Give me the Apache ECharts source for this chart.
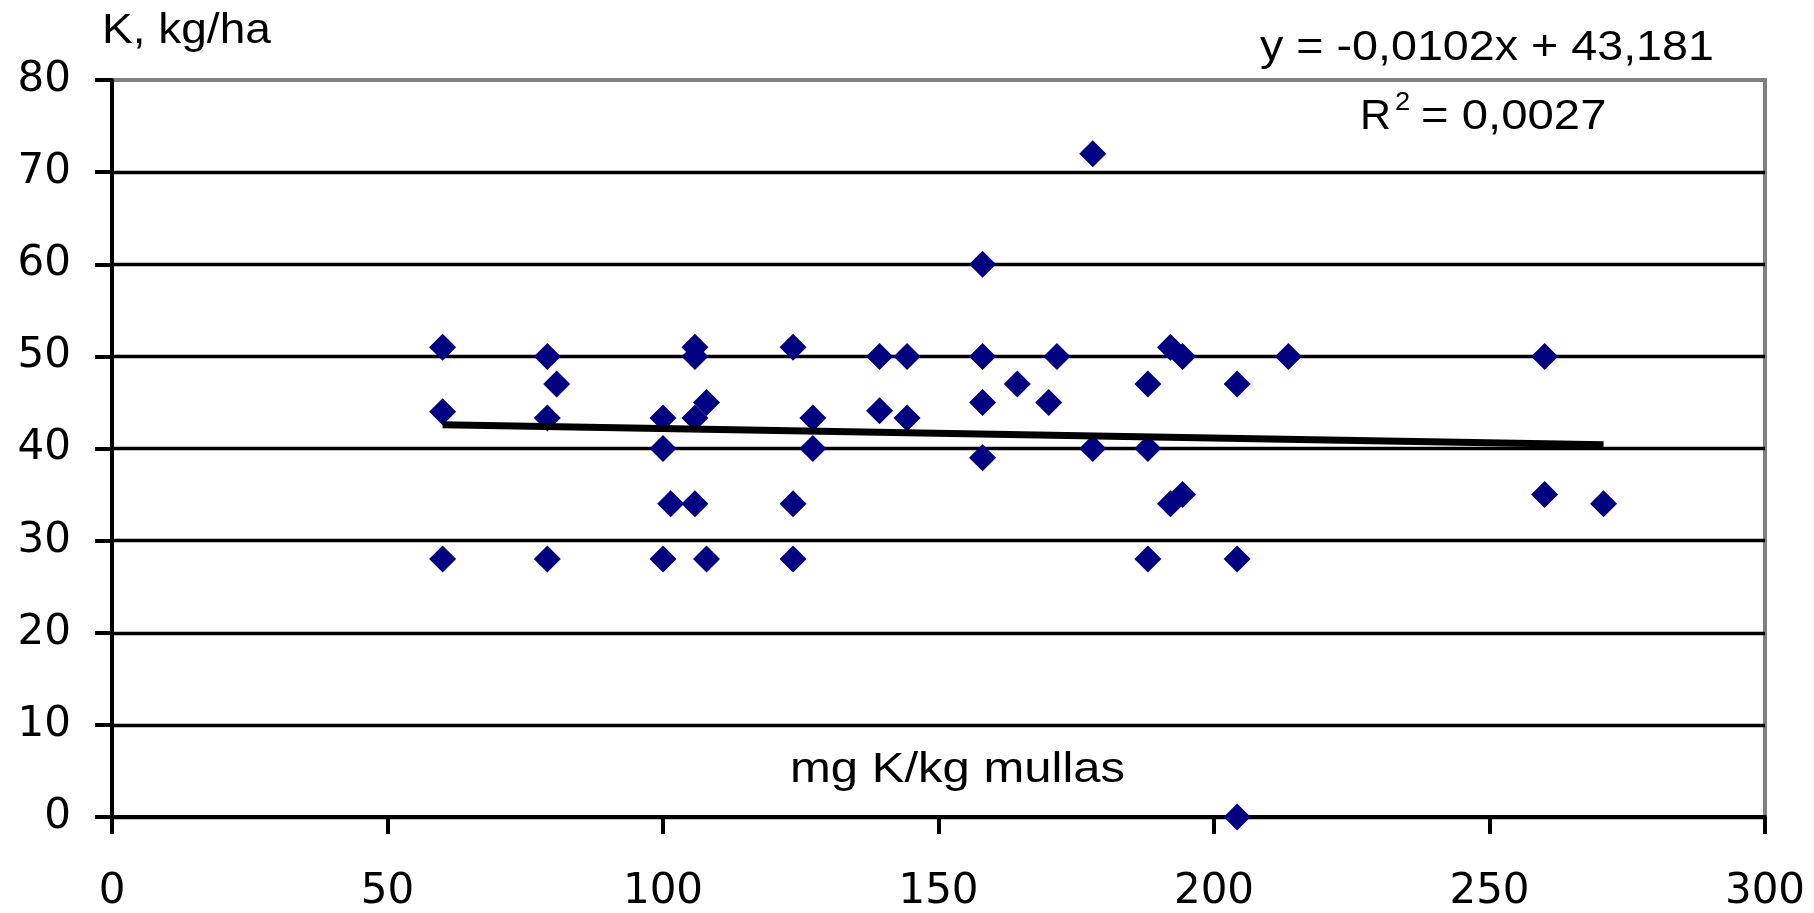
<!DOCTYPE html>
<html>
<head>
<meta charset="utf-8">
<script src="https://cdn.jsdelivr.net/npm/echarts@6/dist/echarts.min.js"></script>
<style>
  html, body { margin: 0; padding: 0; background: #fff; }
  #chart { width: 1814px; height: 913px; }
</style>
</head>
<body>
<div id="chart"></div>
<script>
// soil K (mg K/kg mullas) vs K (kg/ha)
const soilK  = [60, 60, 60, 79, 79, 79, 80.7, 100, 100, 100, 101.4, 105.8, 105.8, 105.8, 105.8,
                107.9, 107.9, 123.6, 123.6, 123.6, 127.2, 127.2, 139.3, 139.3, 144.3, 144.3,
                158, 158, 158, 158, 164.3, 170, 171.5, 178, 178, 188, 188, 188, 192.1, 192.1,
                194.3, 194.3, 204.2, 204.2, 204.2, 213.5, 260, 260, 270.7];
const yieldK = [51, 44, 28, 50, 43.3, 28, 47, 43.3, 40, 28, 34, 51, 50, 43.3, 34,
                45, 28, 51, 34, 28, 43.3, 40, 50, 44.1, 50, 43.3,
                60, 50, 45, 39, 47, 45, 50, 72, 40, 47, 40, 28, 51, 34,
                50, 35, 47, 28, 0, 50, 50, 35, 34];

// linear trend as given on the chart
const trendSlope = -0.0102;
const trendIntercept = 43.181;
const trendLabel = 'y = -0,0102x + 43,181';
const r2Value = '= 0,0027';

const xTicks = [0, 50, 100, 150, 200, 250, 300];
const yTicks = [0, 10, 20, 30, 40, 50, 60, 70, 80];

const xTitle = 'mg K/kg mullas';
const yTitle = 'K, kg/ha';

const font = "'Liberation Sans', Arial, sans-serif";
const tickFont = "'DejaVu Sans', sans-serif";

const points = soilK.map((x, i) => [x, yieldK[i]]);
const xMinData = Math.min(...soilK);
const xMaxData = Math.max(...soilK);
const trend = [xMinData, xMaxData].map(x => [x, trendSlope * x + trendIntercept]);

// stretched text helper (the original text is a bit wider than plain Arial)
function label(text, x, y, size, sx) {
  return {
    type: 'text', x: x, y: y, scaleX: sx, z: 10,
    style: { text: text, font: size + 'px ' + font, fill: '#000', align: 'left', verticalAlign: 'middle' }
  };
}

const chart = echarts.init(document.getElementById('chart'));

chart.setOption({
  backgroundColor: '#ffffff',
  animation: false,
  textStyle: { fontFamily: font },
  grid: {
    left: 112, right: 49, top: 80, bottom: 93,
    show: true, borderColor: '#808080', borderWidth: 4,
    backgroundColor: 'transparent'
  },
  xAxis: {
    type: 'value',
    min: xTicks[0], max: xTicks[xTicks.length - 1],
    interval: xTicks[1] - xTicks[0],
    axisLine: { show: true, onZero: false, lineStyle: { color: '#000', width: 4 } },
    axisTick: { show: true, inside: false, length: 17, lineStyle: { color: '#000', width: 4 } },
    axisLabel: { color: '#000', fontSize: 42, fontFamily: tickFont, margin: 54 },
    splitLine: { show: false }
  },
  yAxis: {
    type: 'value',
    min: yTicks[0], max: yTicks[yTicks.length - 1],
    interval: yTicks[1] - yTicks[0],
    axisLine: { show: true, onZero: false, lineStyle: { color: '#000', width: 4 } },
    axisTick: { show: true, inside: false, length: 17, lineStyle: { color: '#000', width: 4 } },
    axisLabel: { color: '#000', fontSize: 42, fontFamily: tickFont, margin: 41 },
    splitLine: { show: true, showMaxLine: false, lineStyle: { color: '#000', width: 3.4 } }
  },
  series: [
    {
      type: 'scatter',
      data: points,
      symbol: 'diamond',
      symbolSize: 27,
      itemStyle: { color: '#000080', opacity: 1 },
      z: 3
    },
    {
      type: 'line',
      data: trend,
      symbol: 'none',
      lineStyle: { color: '#000', width: 7 },
      z: 4
    }
  ],
  graphic: [
    label(yTitle, 102, 31, 43, 1.07),
    label(trendLabel, 1260, 48, 43, 1.085),
    label('R', 1360, 117, 43, 1.0),
    label('2', 1395, 103, 26, 1.05),
    label(r2Value, 1421, 117, 43, 1.1),
    label(xTitle, 790, 770, 43, 1.14)
  ]
});
</script>
</body>
</html>
